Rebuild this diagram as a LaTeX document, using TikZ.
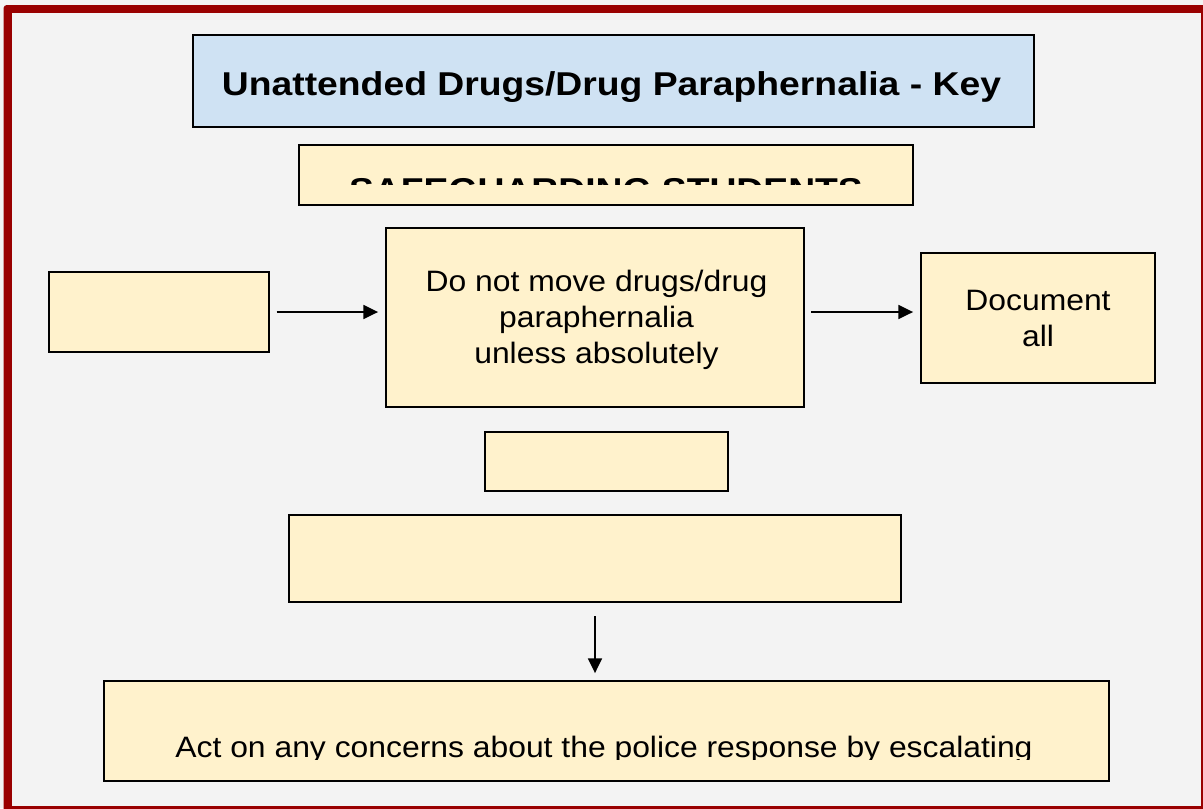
\documentclass[tikz,border=0pt]{standalone}
\usepackage{fontspec}
\setmainfont{Liberation Sans}
\newfontfamily\bodyfont[FakeStretch=1.08]{Liberation Sans}
\newfontfamily\headfont[FakeStretch=1.13]{Liberation Sans}
\usetikzlibrary{arrows.meta,shadows}
\definecolor{framered}{HTML}{990000}
\definecolor{bggray}{HTML}{F3F3F3}
\definecolor{keyblue}{HTML}{CFE2F3}
\definecolor{noteyellow}{HTML}{FFF2CC}
\tikzset{
  box/.style={draw=black, line width=1.5pt, inner sep=0pt, fill=noteyellow,
    drop shadow={shadow xshift=0.9pt, shadow yshift=-0.9pt, fill=black, opacity=0.35}},
  bodytext/.style={inner sep=0pt, align=center, font={\bodyfont\fontsize{22.125pt}{27pt}\selectfont}},
  headtext/.style={inner sep=0pt, font={\headfont\bfseries\fontsize{24.75pt}{29pt}\selectfont}},
  arr/.style={line width=1.1pt, -{Triangle[length=11pt, width=10.5pt]}}
}
\begin{document}
\begin{tikzpicture}[x=0.75pt,y=-0.75pt]
\clip (0,0) rectangle (1203,808);
\useasboundingbox (0,0) rectangle (1203,808);
% background and frame
\fill[bggray] (0,0) rectangle (1203,808);
\fill[framered, rounded corners=2.5pt] (3.5,5) rectangle (1215,820);
\fill[bggray] (11.5,13.3) rectangle (1201,806);

% boxes
\node[box, fill=keyblue, minimum width=630.75pt, minimum height=69pt] (title) at (613.5,81) {};
\node[headtext, anchor=base] (titletext) at (611.5,95) {Unattended Drugs/Drug Paraphernalia - Key};

\node[box, minimum width=460.5pt, minimum height=45pt] (safe) at (606,175) {};
\begin{scope}
  \clip (299,145) rectangle (913,184);
  \node[headtext, anchor=base] (safetext) at (606,201.6) {SAFEGUARDING STUDENTS};
\end{scope}

\node[box, minimum width=165pt, minimum height=60pt] (left) at (159,312) {};
\node[box, minimum width=313.5pt, minimum height=134.25pt] (main) at (595,317.5) {};
\node[bodytext, anchor=north] (maintext) at (596.5,269.6) {Do not move drugs/drug\\paraphernalia\\unless absolutely};
\node[box, minimum width=175.5pt, minimum height=97.5pt] (doc) at (1038,318) {};
\node[bodytext, anchor=north] (doctext) at (1038,289.6) {Document\\all};

\node[box, minimum width=182.25pt, minimum height=44.25pt] (small) at (606.5,461.5) {};
\node[box, minimum width=459pt, minimum height=65.25pt] (wide) at (595,558.5) {};

\node[box, minimum width=753.75pt, minimum height=75pt] (bottom) at (606.5,731) {};
\begin{scope}
  \clip (104,681) rectangle (1109,759);
  \node[bodytext, anchor=base] (bottomtext) at (604,757) {Act on any concerns about the police response by escalating};
\end{scope}

% connectors
\draw[arr] ([xshift=5pt]left.east) -- ([xshift=-5.2pt]left.east -| main.west);
\draw[arr] ([xshift=4.5pt]main.east |- left.east) -- ([xshift=-5.2pt]doc.west |- left.east);
\draw[arr] ([yshift=-9.75pt]wide.south) -- ([yshift=5.2pt]wide.south |- bottom.north);
\end{tikzpicture}
\end{document}
